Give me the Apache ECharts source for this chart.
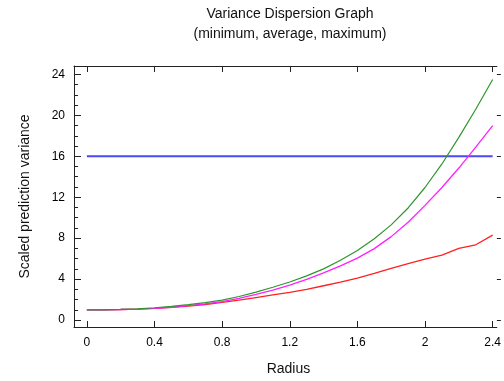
<!DOCTYPE html>
<html><head><meta charset="utf-8">
<script src="https://cdn.jsdelivr.net/npm/echarts@6/dist/echarts.min.js"></script>
<style>html,body{margin:0;padding:0;background:#fff}#c{width:504px;height:381px}</style>
</head><body><div id="c"></div>
<script>
const radius = [0,0.1,0.2,0.3,0.4,0.5,0.6,0.7,0.8,0.9,1.0,1.1,1.2,1.3,1.4,1.5,1.6,1.7,1.8,1.9,2.0,2.1,2.2,2.3,2.4];
const maxVar = [1.0,1.0,1.04,1.1,1.2,1.33,1.5,1.7,1.95,2.3,2.72,3.2,3.72,4.32,5.0,5.85,6.8,7.95,9.3,10.95,12.95,15.25,17.85,20.6,23.5];
const avgVar = [1.0,1.0,1.03,1.07,1.14,1.25,1.4,1.58,1.8,2.12,2.5,2.93,3.41,3.97,4.6,5.3,6.05,6.98,8.15,9.55,11.2,12.95,14.85,16.9,19.0];
const minVar = [1.0,1.0,1.03,1.07,1.13,1.24,1.37,1.52,1.72,1.95,2.2,2.45,2.7,3.0,3.35,3.7,4.1,4.55,5.05,5.5,5.95,6.35,7.0,7.35,8.3];
const refRadius = [0, 2.4];
const refVar = [16, 16];
const xTicks = [0,0.4,0.8,1.2,1.6,2,2.4];
const yTicks = [0,4,8,12,16,20,24];
const yMinorTicks = [0,1,2,3,4,5,6,7,8,9,10,11,12,13,14,15,16,17,18,19,20,21,22,23,24];
const titleText = 'Variance Dispersion Graph';
const subtitleText = '(minimum, average, maximum)';

const FONT = 'Liberation Sans, Arial, sans-serif';
const AX = '#222';
const xMin = -0.076, xMax = 2.425, yMin = -0.68, yMax = 24.82;
const pairs = (xs, ys) => xs.map((x, i) => [x, ys[i]]);

const chart = echarts.init(document.getElementById('c'), null, {renderer: 'canvas'});
chart.setOption({
  animation: false,
  backgroundColor: '#fff',
  textStyle: {fontFamily: FONT},
  graphic: [
    {type: 'text', x: 290, y: 14, style: {text: titleText, font: '14px ' + FONT, fill: '#111', textAlign: 'center', textVerticalAlign: 'middle'}},
    {type: 'text', x: 290, y: 34, style: {text: subtitleText, font: '14px ' + FONT, fill: '#111', textAlign: 'center', textVerticalAlign: 'middle'}}
  ],
  grid: {left: 74, right: 4, top: 66, bottom: 51, containLabel: false},
  xAxis: [
    {type: 'value', position: 'bottom', min: xMin, max: xMax,
     axisLine: {show: true, onZero: false, lineStyle: {color: AX, width: 1}},
     axisTick: {show: true, inside: true, length: 6, customValues: xTicks, lineStyle: {color: AX}},
     axisLabel: {show: true, customValues: xTicks, margin: 10, fontSize: 12, color: '#000', fontFamily: FONT},
     splitLine: {show: false},
     name: 'Radius', nameLocation: 'middle', nameGap: 35,
     nameTextStyle: {fontSize: 14, color: '#111', fontFamily: FONT, padding: [0, 0, 0, 6]}},
    {type: 'value', position: 'top', min: xMin, max: xMax,
     axisLine: {show: true, onZero: false, lineStyle: {color: AX, width: 1}},
     axisTick: {show: true, inside: true, length: 6, customValues: xTicks, lineStyle: {color: AX}},
     axisLabel: {show: false}, splitLine: {show: false}}
  ],
  yAxis: [
    {type: 'value', position: 'left', min: yMin, max: yMax,
     axisLine: {show: true, onZero: false, lineStyle: {color: AX, width: 1}},
     axisTick: {show: true, inside: true, length: 7, customValues: yTicks, lineStyle: {color: AX}},
     axisLabel: {show: true, customValues: yTicks, margin: 9, fontSize: 12, color: '#000', fontFamily: FONT},
     splitLine: {show: false},
     name: 'Scaled prediction variance', nameLocation: 'middle', nameGap: 42,
     nameTextStyle: {fontSize: 14, color: '#111', fontFamily: FONT}},
    {type: 'value', position: 'left', min: yMin, max: yMax,
     axisLine: {show: false, onZero: false},
     axisTick: {show: true, inside: true, length: 4, customValues: yMinorTicks, lineStyle: {color: AX}},
     axisLabel: {show: false}, splitLine: {show: false}},
    {type: 'value', position: 'right', min: yMin, max: yMax,
     axisLine: {show: false, onZero: false},
     axisTick: {show: true, inside: false, length: 4, customValues: yTicks, lineStyle: {color: AX}},
     axisLabel: {show: false}, splitLine: {show: false}}
  ],
  series: [
    {type: 'line', name: 'reference', data: pairs(refRadius, refVar), showSymbol: false, symbol: 'none',
     lineStyle: {color: '#4a4af5', width: 2}, xAxisIndex: 0, yAxisIndex: 0, z: 2},
    {type: 'line', name: 'minimum', data: pairs(radius, minVar), showSymbol: false, symbol: 'none',
     lineStyle: {color: '#ff2020', width: 1.3}, xAxisIndex: 0, yAxisIndex: 0, z: 3},
    {type: 'line', name: 'average', data: pairs(radius, avgVar), showSymbol: false, symbol: 'none',
     lineStyle: {color: '#ff20ff', width: 1.3}, xAxisIndex: 0, yAxisIndex: 0, z: 4},
    {type: 'line', name: 'maximum', data: pairs(radius, maxVar), showSymbol: false, symbol: 'none',
     lineStyle: {color: '#2e962e', width: 1.2}, xAxisIndex: 0, yAxisIndex: 0, z: 5}
  ]
});
</script></body></html>
